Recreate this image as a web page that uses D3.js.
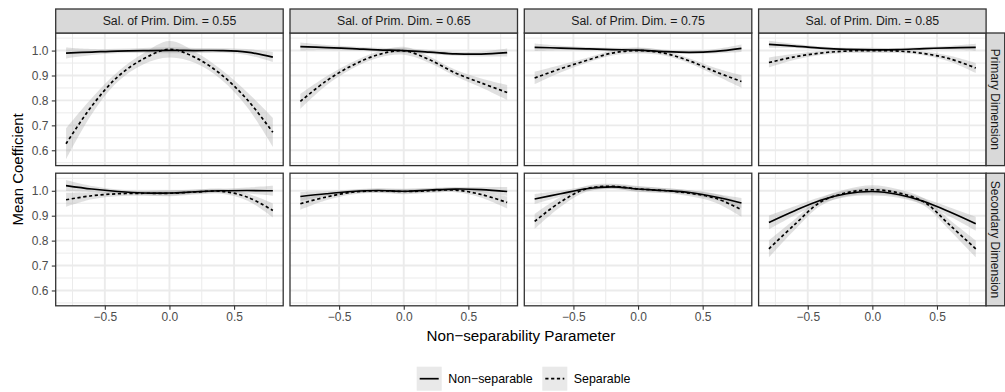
<!DOCTYPE html>
<html>
<head>
<meta charset="utf-8">
<script src="https://cdn.jsdelivr.net/npm/d3@7"></script>
<style>
  body { margin: 0; background: #ffffff; }
  text { font-family: "Liberation Sans", Arial, Helvetica, sans-serif; }
</style>
</head>
<body>
<svg id="chart" width="1005" height="392"></svg>
<script>
// ---- Data -------------------------------------------------------------
const salienceLevels = ["0.55", "0.65", "0.75", "0.85"];
const dimensions = ["Primary Dimension", "Secondary Dimension"];
const seriesNames = ["Non\u2212separable", "Separable"];

// Non-separability parameter values at which the smoothed means are given
const paramGrid = [-0.8, -0.6, -0.4, -0.2, 0, 0.2, 0.4, 0.6, 0.8];

const xTicks = [-0.5, 0, 0.5];
const xMinorTicks = [-0.75, -0.25, 0.25, 0.75];
const yTicks = [0.6, 0.7, 0.8, 0.9, 1.0];
const yMinorTicks = [0.55, 0.65, 0.75, 0.85, 0.95, 1.05];

// Smoothed mean coefficient, one row per salience level
const primaryNonSep = [
  [0.990, 0.994, 0.998, 1.000, 1.001, 1.000, 1.000, 0.994, 0.974],
  [1.016, 1.012, 1.008, 1.003, 1.000, 0.994, 0.987, 0.986, 0.992],
  [1.013, 1.010, 1.007, 1.004, 1.002, 0.996, 0.993, 0.997, 1.009],
  [1.025, 1.018, 1.010, 1.005, 1.003, 1.004, 1.008, 1.011, 1.013]
];
const primarySep = [
  [0.626, 0.778, 0.895, 0.967, 1.005, 0.972, 0.904, 0.804, 0.672],
  [0.796, 0.878, 0.940, 0.983, 0.999, 0.963, 0.910, 0.870, 0.832],
  [0.890, 0.927, 0.960, 0.990, 1.000, 0.990, 0.958, 0.915, 0.876],
  [0.952, 0.975, 0.990, 0.998, 1.000, 0.998, 0.988, 0.967, 0.930]
];
const secondaryNonSep = [
  [1.021, 1.007, 0.997, 0.991, 0.991, 0.996, 1.000, 1.001, 1.000],
  [0.977, 0.988, 0.997, 1.001, 0.998, 1.003, 1.007, 1.005, 0.997],
  [0.967, 0.988, 1.008, 1.016, 1.007, 1.001, 0.993, 0.975, 0.951],
  [0.873, 0.920, 0.962, 0.988, 0.997, 0.985, 0.957, 0.915, 0.868]
];
const secondarySep = [
  [0.964, 0.980, 0.988, 0.990, 0.990, 0.995, 0.998, 0.975, 0.921],
  [0.948, 0.975, 0.994, 1.000, 0.997, 1.000, 1.003, 0.985, 0.953],
  [0.877, 0.955, 1.008, 1.018, 1.007, 1.001, 0.990, 0.970, 0.924],
  [0.767, 0.865, 0.955, 0.992, 1.004, 0.992, 0.955, 0.862, 0.767]
];

// Half-widths of the standard-error bands
const primaryNonSepSE = [
  [0.022, 0.012, 0.009, 0.010, 0.012, 0.010, 0.009, 0.012, 0.020],
  [0.016, 0.010, 0.008, 0.008, 0.010, 0.008, 0.008, 0.010, 0.016],
  [0.015, 0.009, 0.007, 0.007, 0.009, 0.007, 0.007, 0.009, 0.015],
  [0.014, 0.008, 0.006, 0.006, 0.008, 0.006, 0.006, 0.008, 0.014]
];
const primarySepSE = [
  [0.062, 0.032, 0.020, 0.022, 0.033, 0.022, 0.020, 0.030, 0.058],
  [0.030, 0.018, 0.013, 0.013, 0.016, 0.013, 0.013, 0.018, 0.030],
  [0.025, 0.015, 0.010, 0.010, 0.012, 0.010, 0.010, 0.015, 0.025],
  [0.020, 0.012, 0.008, 0.008, 0.010, 0.008, 0.008, 0.012, 0.020]
];
const secondaryNonSepSE = [
  [0.022, 0.012, 0.008, 0.008, 0.010, 0.008, 0.008, 0.012, 0.020],
  [0.018, 0.010, 0.008, 0.008, 0.009, 0.008, 0.008, 0.010, 0.018],
  [0.020, 0.012, 0.009, 0.009, 0.010, 0.009, 0.009, 0.012, 0.020],
  [0.028, 0.018, 0.013, 0.013, 0.016, 0.013, 0.013, 0.018, 0.028]
];
const secondarySepSE = [
  [0.028, 0.014, 0.010, 0.010, 0.012, 0.010, 0.010, 0.014, 0.028],
  [0.024, 0.013, 0.009, 0.009, 0.011, 0.009, 0.009, 0.013, 0.024],
  [0.030, 0.020, 0.012, 0.010, 0.012, 0.010, 0.012, 0.018, 0.028],
  [0.034, 0.021, 0.015, 0.014, 0.018, 0.014, 0.015, 0.021, 0.034]
];

const meansByDim = [[primaryNonSep, primarySep], [secondaryNonSep, secondarySep]];
const seByDim = [[primaryNonSepSE, primarySepSE], [secondaryNonSepSE, secondarySepSE]];

// ---- Layout -----------------------------------------------------------
const svg = d3.select("#chart");
const panelLeft = 55.7, panelW = 227.5, colGap = 6.8;
const stripTop = 9, stripH = 24;
const panelTop = stripTop + stripH, panelH = 132.6, rowGap = 7.6;
const rightStripW = 18.6;

const x = d3.scaleLinear().domain([-0.88, 0.88]).range([0, panelW]);
const y = d3.scaleLinear().domain([0.5385, 1.0705]).range([panelH, 0]);

const dashPattern = "3.2,2.6";
const lineStyles = [null, dashPattern];

const colX = c => panelLeft + c * (panelW + colGap);
const rowY = r => panelTop + r * (panelH + rowGap);

svg.append("defs").append("clipPath").attr("id", "panel-clip")
  .append("rect").attr("width", panelW).attr("height", panelH);

const curve = d3.curveCatmullRom.alpha(0.5);
const band = d3.area().curve(curve)
  .x(d => x(d.p)).y0(d => y(d.v - d.se)).y1(d => y(d.v + d.se));
const line = d3.line().curve(curve).x(d => x(d.p)).y(d => y(d.v));

for (let r = 0; r < 2; r++) {
  for (let c = 0; c < 4; c++) {
    const g = svg.append("g").attr("transform", `translate(${colX(c)},${rowY(r)})`);

    g.append("rect").attr("width", panelW).attr("height", panelH).attr("fill", "#ffffff");

    // grid
    const grid = g.append("g");
    grid.selectAll(".vmin").data(xMinorTicks).join("line")
      .attr("x1", d => x(d)).attr("x2", d => x(d)).attr("y1", 0).attr("y2", panelH)
      .attr("stroke", "#ebebeb").attr("stroke-width", 1);
    grid.selectAll(".hmin").data(yMinorTicks).join("line")
      .attr("y1", d => y(d)).attr("y2", d => y(d)).attr("x1", 0).attr("x2", panelW)
      .attr("stroke", "#ebebeb").attr("stroke-width", 1);
    grid.selectAll(".vmaj").data(xTicks).join("line")
      .attr("x1", d => x(d)).attr("x2", d => x(d)).attr("y1", 0).attr("y2", panelH)
      .attr("stroke", "#ebebeb").attr("stroke-width", 1.9);
    grid.selectAll(".hmaj").data(yTicks).join("line")
      .attr("y1", d => y(d)).attr("y2", d => y(d)).attr("x1", 0).attr("x2", panelW)
      .attr("stroke", "#ebebeb").attr("stroke-width", 1.9);

    const plot = g.append("g").attr("clip-path", "url(#panel-clip)");
    const series = [0, 1].map(s => paramGrid.map((p, i) => ({
      p, v: meansByDim[r][s][c][i], se: seByDim[r][s][c][i]
    })));

    series.forEach(pts => {
      plot.append("path").attr("d", band(pts))
        .attr("fill", "#999999").attr("fill-opacity", 0.3);
    });
    series.forEach((pts, s) => {
      plot.append("path").attr("d", line(pts))
        .attr("fill", "none").attr("stroke", "#000000").attr("stroke-width", 1.7)
        .attr("stroke-dasharray", lineStyles[s]);
    });

    // border
    g.append("rect").attr("width", panelW).attr("height", panelH)
      .attr("fill", "none").attr("stroke", "#333333").attr("stroke-width", 1.3);

    // axes
    if (c === 0) {
      const ax = g.append("g").call(d3.axisLeft(y).tickValues(yTicks)
        .tickFormat(d3.format(".1f")).tickSize(3.9).tickPadding(3.4));
      ax.select(".domain").remove();
      ax.selectAll("line").attr("stroke", "#333333").attr("stroke-width", 1.1);
      ax.selectAll("text").attr("fill", "#4d4d4d").style("font-size", "12px")
        .style("font-family", '"Liberation Sans", Arial, sans-serif');
    }
    if (r === 1) {
      const ax = g.append("g").attr("transform", `translate(0,${panelH})`)
        .call(d3.axisBottom(x).tickValues(xTicks)
          .tickFormat(d3.format(".1f")).tickSize(3.9).tickPadding(3.2));
      ax.select(".domain").remove();
      ax.selectAll("line").attr("stroke", "#333333").attr("stroke-width", 1.1);
      ax.selectAll("text").attr("fill", "#4d4d4d").style("font-size", "12px")
        .style("font-family", '"Liberation Sans", Arial, sans-serif');
    }

    // right strip
    if (c === 3) {
      const sg = g.append("g").attr("transform", `translate(${panelW},0)`);
      sg.append("rect").attr("width", rightStripW).attr("height", panelH)
        .attr("fill", "#d9d9d9").attr("stroke", "#333333").attr("stroke-width", 1.3);
      sg.append("text")
        .attr("transform", `translate(${rightStripW / 2},${panelH / 2}) rotate(90)`)
        .attr("text-anchor", "middle").attr("dy", "0.35em")
        .attr("fill", "#1a1a1a").style("font-size", "12px")
        .text(dimensions[r]);
    }
  }
}

// top strips
salienceLevels.forEach((lvl, c) => {
  const sg = svg.append("g").attr("transform", `translate(${colX(c)},${stripTop})`);
  sg.append("rect").attr("width", panelW).attr("height", stripH)
    .attr("fill", "#d9d9d9").attr("stroke", "#333333").attr("stroke-width", 1.3);
  sg.append("text").attr("x", panelW / 2).attr("y", stripH / 2).attr("dy", "0.35em")
    .attr("text-anchor", "middle").attr("fill", "#1a1a1a").style("font-size", "12.3px")
    .text(`Sal. of Prim. Dim. = ${lvl}`);
});

// axis titles
const plotCenterX = (colX(0) + colX(3) + panelW) / 2;
svg.append("text").attr("x", plotCenterX).attr("y", 340.5).attr("text-anchor", "middle")
  .style("font-size", "15.2px").attr("fill", "#000000")
  .text("Non\u2212separability Parameter");
const plotCenterY = (rowY(0) + rowY(1) + panelH) / 2;
svg.append("text").attr("transform", `translate(23,${plotCenterY}) rotate(-90)`)
  .attr("text-anchor", "middle").style("font-size", "15px").attr("fill", "#000000")
  .text("Mean Coefficient");

// legend
const legend = svg.append("g").attr("transform", "translate(416.7,366.7)");
const keyW = 25, keyH = 24;
const legendOffsets = [0, 125.6];
seriesNames.forEach((name, s) => {
  const k = legend.append("g").attr("transform", `translate(${legendOffsets[s]},0)`);
  k.append("rect").attr("width", keyW).attr("height", keyH)
    .attr("fill", "#999999").attr("fill-opacity", 0.22);
  k.append("line").attr("x1", 3).attr("x2", keyW - 3).attr("y1", keyH / 2).attr("y2", keyH / 2)
    .attr("stroke", "#000000").attr("stroke-width", 1.7)
    .attr("stroke-dasharray", lineStyles[s]);
  k.append("text").attr("x", keyW + 6.5).attr("y", keyH / 2).attr("dy", "0.35em")
    .style("font-size", "12.4px").attr("fill", "#000000").text(name);
});
</script>
</body>
</html>
